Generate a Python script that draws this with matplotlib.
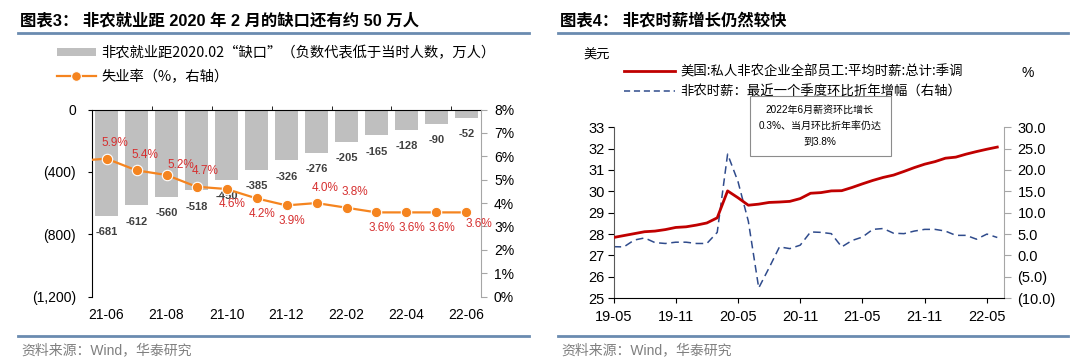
import matplotlib
matplotlib.use('Agg')
import matplotlib.pyplot as plt
import pandas as pd
from matplotlib.lines import Line2D
from matplotlib.ticker import FuncFormatter

plt.rcParams['font.family'] = ['Liberation Sans', 'Noto Sans CJK SC']
cjk = ['Noto Sans CJK SC', 'DejaVu Sans']

# 图表3: 非农就业缺口 (万人) 与失业率 (%)
meses = ['21-06', '21-07', '21-08', '21-09', '21-10', '21-11', '21-12',
         '22-01', '22-02', '22-03', '22-04', '22-05', '22-06']
gap = [-681, -612, -560, -518, -450, -385, -326, -276, -205, -165, -128, -90, -52]
unemp = [5.9, 5.4, 5.2, 4.7, 4.6, 4.2, 3.9, 4.0, 3.8, 3.6, 3.6, 3.6, 3.6]
unemp_prev = 5.8  # 21-05, só o começo da linha

# 图表4: 平均时薪 (美元) 与环比折年增幅 (%)
meses2 = list(pd.period_range('2019-05', '2022-06', freq='M').strftime('%y-%m'))
wage = [27.84, 27.93, 28.02, 28.11, 28.14, 28.21, 28.31, 28.34, 28.42, 28.52,
        28.76, 30.02, 29.70, 29.35, 29.40, 29.48, 29.50, 29.53, 29.66, 29.91,
        29.94, 30.02, 30.03, 30.18, 30.35, 30.51, 30.65, 30.76, 30.93, 31.11,
        31.27, 31.39, 31.55, 31.60, 31.74, 31.86, 31.97, 32.07]
growth = [2.05, 2.0, 3.6, 4.1, 3.0, 2.8, 3.1, 3.1, 2.8, 2.8,
          5.4, 23.7, 17.3, 8.0, -7.6, -2.9, 2.0, 1.6, 2.4, 5.5,
          5.4, 5.1, 2.0, 3.5, 4.3, 6.1, 6.3, 5.2, 5.1, 5.7,
          6.1, 6.1, 5.7, 4.7, 4.7, 3.8, 5.0, 4.2]

W, H = 1080, 364
fig = plt.figure(figsize=(W / 100, H / 100), dpi=100)

def fx(px):
    return px / W

def fy(py):
    return 1 - py / H

# ---------- esquerda ----------
ax = fig.add_axes([fx(91.5), fy(296.5), fx(390), 186.9 / H])
x = list(range(len(meses)))
bars = ax.bar(x, gap, width=0.77, color='#bfbfbf', zorder=2)
ax.set_xlim(-0.5, len(meses) - 0.5)
ax.set_ylim(-1200, 0)
ax.set_yticks([0, -400, -800, -1200])
ax.yaxis.set_major_formatter(FuncFormatter(
    lambda v, p: '0' if v == 0 else '({:,.0f})'.format(-v)))
ax.set_xticks(x[::2])
ax.set_xticklabels(meses[::2])
ax.set_xticks([i + 1.5 for i in range(0, 12, 2)], minor=True)
ax.tick_params(axis='x', which='major', bottom=True, top=False, length=0, pad=8, labelsize=10)
ax.tick_params(axis='x', which='minor', bottom=False, top=True, direction='out', length=3)
ax.tick_params(axis='y', length=3, pad=8, labelsize=10)
ax.spines['bottom'].set_visible(False)
ax.spines['right'].set_visible(False)

for xi, v in zip(x, gap):
    ax.annotate(str(v), (xi, v), xytext=(0, -12), textcoords='offset points',
                ha='center', va='center', fontsize=8, fontweight='bold', color='#404040')

ax2 = ax.twinx()
ax2.plot([-1] + x, [unemp_prev] + unemp, color='#f5841f', lw=1.6,
         marker='o', markersize=7.5, markeredgecolor='white', markeredgewidth=0.8,
         markevery=list(range(1, len(x) + 1)), clip_on=True)
ax2.set_xlim(-0.5, len(meses) - 0.5)
ax2.set_ylim(0, 8)
ax2.set_yticks(range(0, 9))
ax2.yaxis.set_major_formatter(FuncFormatter(lambda v, p: '{:.0f}%'.format(v)))
ax2.tick_params(axis='y', length=4, pad=5, labelsize=10, color='#a6a6a6')
for s in ['top', 'bottom', 'left']:
    ax2.spines[s].set_visible(False)
ax2.spines['right'].set_color('#a6a6a6')

offs = {'a': (6, 11), 'ar': (10, 7), 'b': (4, -11), 'r': (9, -8)}
pos = ['a', 'a', 'ar', 'a', 'b', 'b', 'b', 'a', 'a', 'b', 'b', 'b', 'r']
for xi, v, p in zip(x, unemp, pos):
    ax2.annotate('{:.1f}%'.format(v), (xi, v), xytext=offs[p], textcoords='offset points',
                 ha='center', va='center', fontsize=8.5, color='#d62f2f')

hl = [bars, Line2D([], [], color='#f5841f', lw=1.6, marker='o', markersize=7,
                   markeredgecolor='white', markeredgewidth=0.8)]
fig.legend(hl, ['非农就业距2020.02“缺口”（负数代表低于当时人数，万人）', '失业率（%，右轴）'],
           loc='upper left', bbox_to_anchor=(fx(57), fy(46)), frameon=False,
           prop={'family': cjk, 'size': 10.3}, handlelength=2.7, handleheight=0.5,
           handletextpad=0.4, labelspacing=0.65, borderpad=0, borderaxespad=0)

# ---------- direita ----------
bx = fig.add_axes([fx(613.5), fy(298.2), fx(390), 171 / H])
t = list(range(len(meses2)))
bx.plot(t, wage, color='#c00000', lw=2, zorder=3)
bx.set_xlim(0, 37.6)
bx.set_ylim(25, 33)
bx.set_yticks(range(25, 34))
bx.set_xticks(t[::6])
bx.set_xticklabels(meses2[::6])
bx.tick_params(axis='x', length=3.5, pad=5, labelsize=10.5)
bx.tick_params(axis='y', length=4, pad=2.5, labelsize=10.5)
bx.spines['top'].set_visible(False)
bx.spines['right'].set_visible(False)
bx.spines['left'].set_color('#595959')

bx2 = bx.twinx()
bx2.plot(t, growth, color='#2f4b8c', lw=1.1, dashes=(5, 3))
bx2.set_ylim(-10, 30)
bx2.set_yticks(range(-10, 31, 5))
bx2.yaxis.set_major_formatter(FuncFormatter(
    lambda v, p: '{:.1f}'.format(v) if v >= 0 else '({:.1f})'.format(-v)))
bx2.tick_params(axis='y', length=5, pad=5, labelsize=10.5, color='#a6a6a6')
for s in ['top', 'bottom', 'left']:
    bx2.spines[s].set_visible(False)
bx2.spines['right'].set_color('#a6a6a6')
bx.set_zorder(bx2.get_zorder() + 1)
bx.patch.set_visible(False)

hl2 = [Line2D([], [], color='#c00000', lw=2),
       Line2D([], [], color='#2f4b8c', lw=1.1, dashes=(4, 2.5))]
fig.legend(hl2, ['美国:私人非农企业全部员工:平均时薪:总计:季调', '非农时薪：最近一个季度环比折年增幅（右轴）'],
           loc='upper left', bbox_to_anchor=(fx(624), fy(65)), frameon=False,
           prop={'family': cjk, 'size': 9.6}, handlelength=3.8,
           handletextpad=0.4, labelspacing=0.4, borderpad=0, borderaxespad=0)
fig.text(fx(597), fy(55), '美元', family=cjk, fontsize=9.5, ha='center', va='center')
fig.text(fx(1028), fy(73), '%', fontsize=10, ha='center', va='center')

fig.text(fx(820), fy(126), '2022年6月薪资环比增长\n0.3%、当月环比折年率仍达\n到3.8%',
         fontsize=7.2, ha='center', va='center', linespacing=1.75,
         bbox=dict(boxstyle='square,pad=0.9', fc='white', ec='#8c8c8c', lw=0.8))

# ---------- títulos, linhas e fontes ----------
fig.text(fx(20), fy(21), '图表3： 非农就业距 2020 年 2 月的缺口还有约 50 万人',
         fontsize=11.8, fontweight='bold', va='center')
fig.text(fx(560), fy(21), '图表4： 非农时薪增长仍然较快',
         fontsize=11.8, fontweight='bold', va='center')
for a, b in [(18, 529), (558, 1068)]:
    for yy in (32.7, 336):
        fig.add_artist(Line2D([fx(a), fx(b)], [fy(yy), fy(yy)], color='#6a8bb0', lw=2))
fig.text(fx(21), fy(350), '资料来源：Wind，华泰研究', fontsize=10, color='#7f7f7f', va='center')
fig.text(fx(561), fy(350), '资料来源：Wind，华泰研究', fontsize=10, color='#7f7f7f', va='center')

fig.savefig('out.png', dpi=100)
